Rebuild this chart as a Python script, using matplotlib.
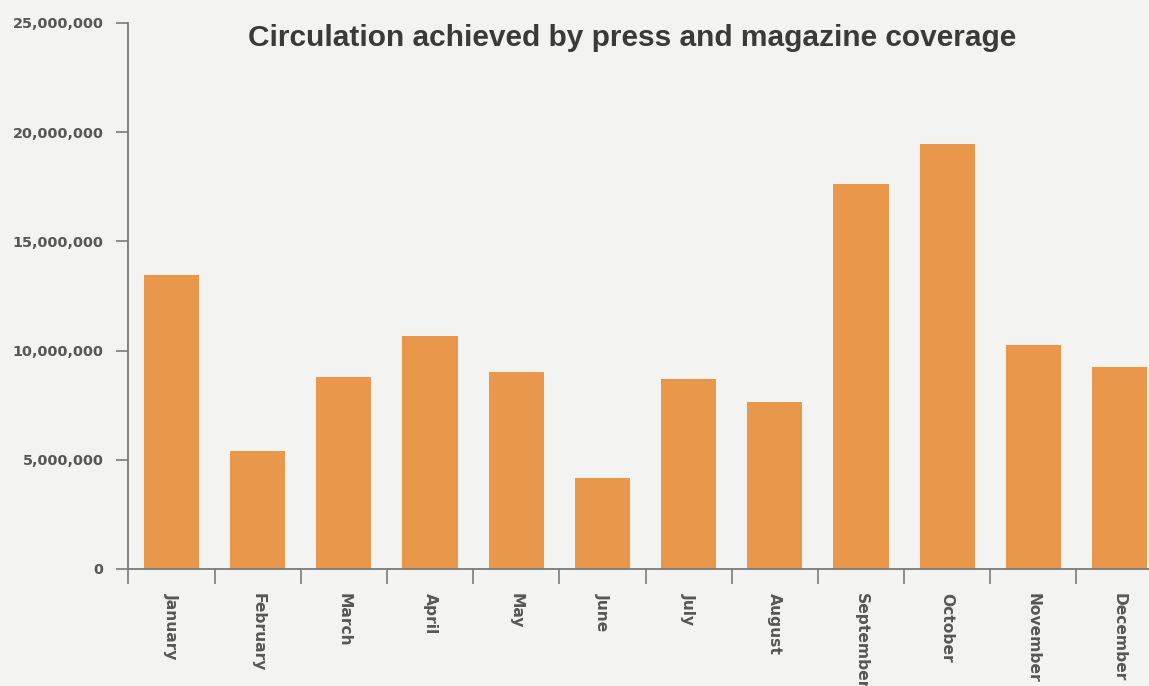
import matplotlib
matplotlib.use("Agg")
import matplotlib.pyplot as plt
from matplotlib.ticker import FuncFormatter, FixedLocator
import numpy as np

months = ["January", "February", "March", "April", "May", "June", "July",
          "August", "September", "October", "November", "December"]
circulation = [13480000, 5390000, 8780000, 10650000, 9000000, 4160000,
               8680000, 7630000, 17640000, 19470000, 10240000, 9230000]
yticks = [0, 5000000, 10000000, 15000000, 20000000, 25000000]
title = "Circulation achieved by press and magazine coverage"

bg = "#f3f3f1"
bar_color = "#e9974b"
axis_color = "#7a7a7a"
text_color = "#575757"

fig = plt.figure(figsize=(11.49, 6.86), dpi=100, facecolor=bg)
ax = fig.add_axes([0.1118, 0.1706, 0.90, 0.7960])
ax.set_facecolor(bg)

x = np.arange(len(months))
ax.bar(x, circulation, width=0.64, color=bar_color, zorder=2)

ax.set_xlim(-0.5, len(months) - 0.5)
ax.set_ylim(0, 25000000)

for s in ["top", "right"]:
    ax.spines[s].set_visible(False)
for s in ["left", "bottom"]:
    ax.spines[s].set_color(axis_color)
    ax.spines[s].set_linewidth(1.3)

ax.set_yticks(yticks)
ax.yaxis.set_major_formatter(FuncFormatter(lambda v, p: f"{int(v):,}"))
ax.tick_params(axis="y", length=9, width=1.2, color=axis_color, pad=9)
for lab in ax.get_yticklabels():
    lab.set_fontfamily("DejaVu Sans")
    lab.set_fontweight("bold")
    lab.set_fontsize(10.4)
    lab.set_color(text_color)

ax.set_xticks(x)
ax.set_xticklabels(months, rotation=-90, fontsize=11.2, fontweight="bold",
                   family="DejaVu Sans", color=text_color)
ax.tick_params(axis="x", which="major", length=0, pad=17)
ax.xaxis.set_minor_locator(FixedLocator(np.arange(-0.5, len(months), 1.0)))
ax.tick_params(axis="x", which="minor", length=11, width=1.2, color=axis_color)

fig.text(0.55, 0.945, title, ha="center", va="center", fontsize=21.5,
         fontweight="bold", family="Liberation Sans", color="#3a3a3a")

fig.savefig("out.png", dpi=100, facecolor=bg)
